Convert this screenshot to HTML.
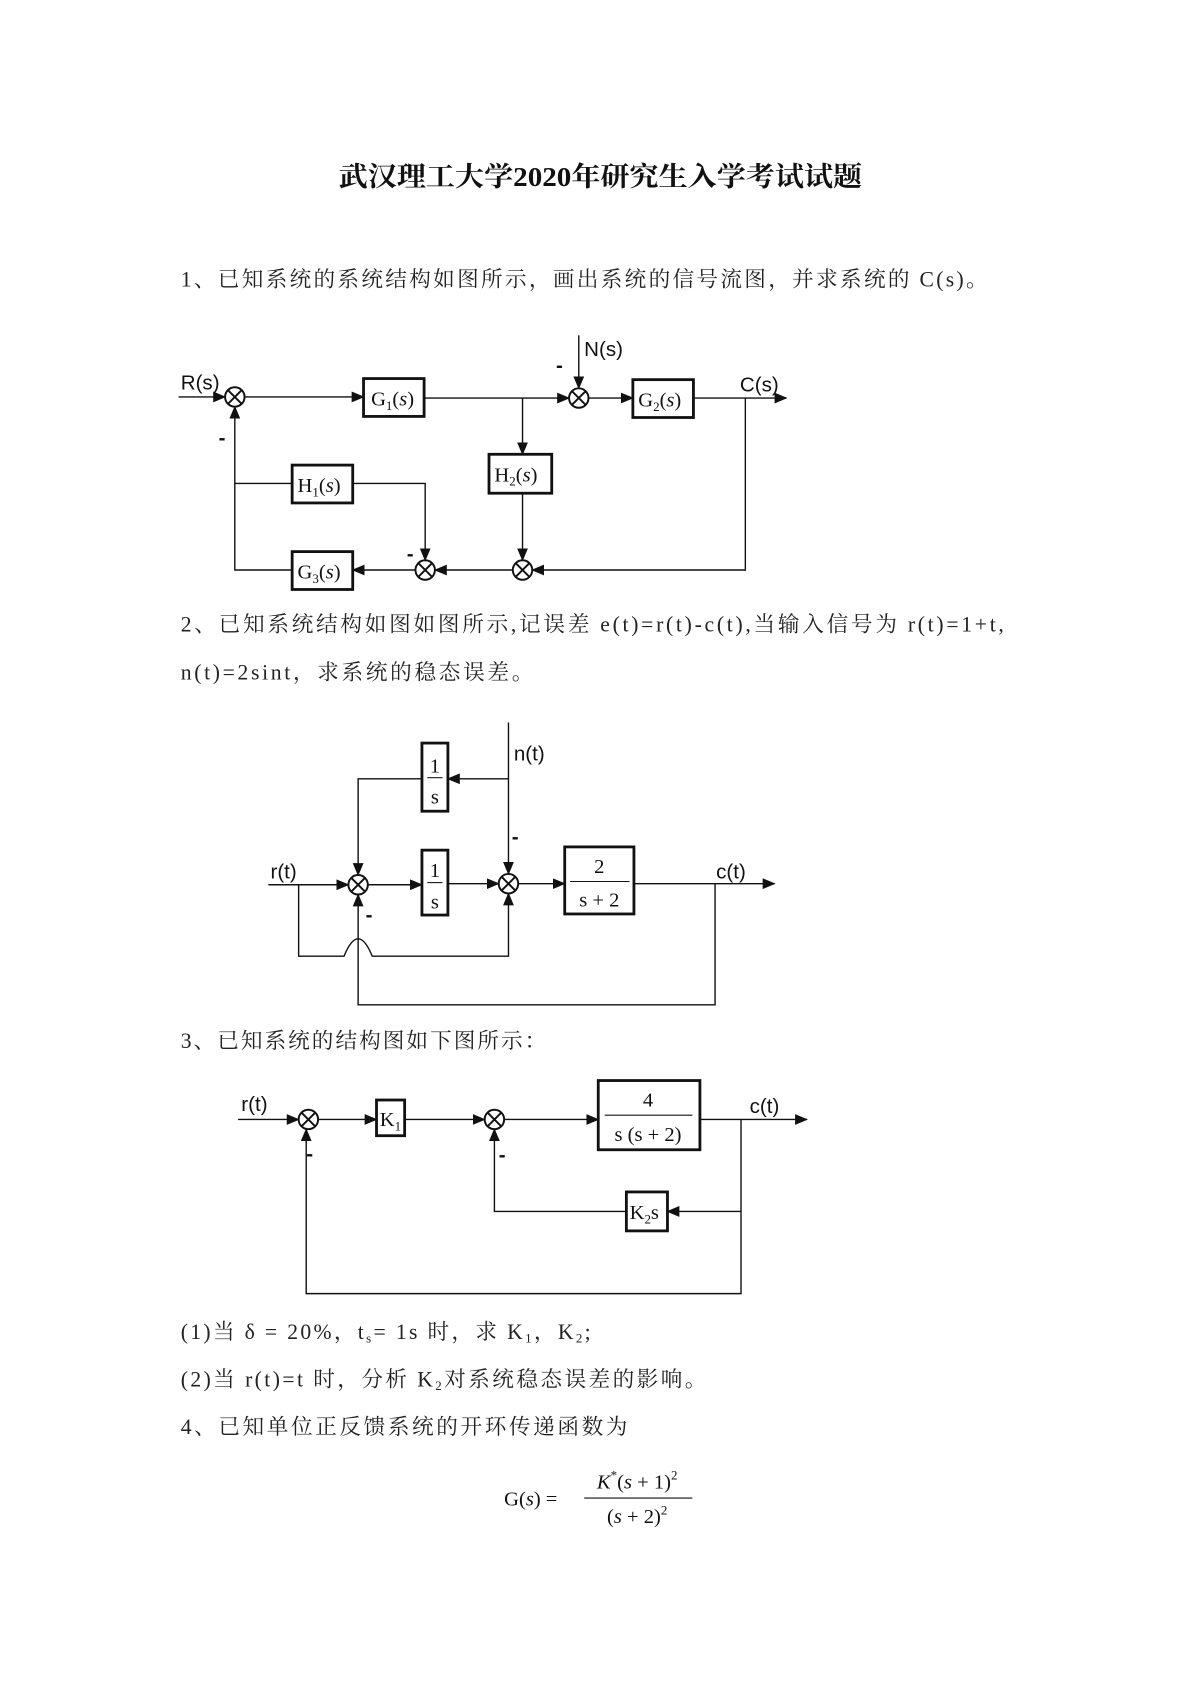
<!DOCTYPE html>
<html><head><meta charset="utf-8"><style>
html,body{margin:0;padding:0;background:#fff}
svg{display:block}
.t{font-family:"Liberation Serif","Noto Serif CJK SC",serif;font-size:20px;fill:#222}
.s{font-family:"Liberation Sans","Noto Sans CJK SC",sans-serif;font-size:19px;fill:#111}
.m{font-family:"Liberation Serif","Noto Serif CJK SC",serif;font-size:19px;fill:#111}
line,polyline,path.w{stroke:#111;stroke-width:1.3;fill:none}
rect{fill:#fff;stroke:#111;stroke-width:2.6}
circle{fill:#fff;stroke:#111;stroke-width:1.8}
</style></head><body>
<svg width="1190" height="1683" viewBox="0 0 1100 1556" xmlns="http://www.w3.org/2000/svg">
<defs>
<marker id="a" markerUnits="userSpaceOnUse" markerWidth="12" markerHeight="10" refX="11" refY="5" orient="auto"><path d="M0,0 L12,5 L0,10 Z" fill="#111"/></marker>
<g id="x"><circle cx="0" cy="0" r="9"/><line x1="-6.3" y1="-6.3" x2="6.3" y2="6.3" style="stroke-width:1.8"/><line x1="-6.3" y1="6.3" x2="6.3" y2="-6.3" style="stroke-width:1.8"/></g>
</defs>

<text x="313" y="172" textLength="484" lengthAdjust="spacingAndGlyphs" style="font-family:'Liberation Serif','Noto Serif CJK SC',serif;font-size:25px;font-weight:bold;fill:#111">武汉理工大学2020年研究生入学考试试题</text>
<text class="t" x="167" y="265" textLength="746" lengthAdjust="spacing">1、已知系统的系统结构如图所示，画出系统的信号流图，并求系统的 C(s)。</text>

<!-- Diagram 1 -->
<text class="s" x="167" y="360">R(s)</text>
<line x1="165" y1="367" x2="208" y2="367" marker-end="url(#a)"/>
<use href="#x" x="217" y="367"/>
<line x1="226" y1="367" x2="336" y2="367" marker-end="url(#a)"/>
<rect x="336" y="350" width="56" height="35"/>
<text class="m" x="343" y="375">G<tspan font-size="12" dy="4">1</tspan><tspan dy="-4">(</tspan><tspan font-style="italic">s</tspan>)</text>
<line x1="392" y1="368" x2="526" y2="368" marker-end="url(#a)"/>
<use href="#x" x="535" y="368"/>
<line x1="535" y1="310" x2="535" y2="359" marker-end="url(#a)"/>
<text class="s" x="540" y="329">N(s)</text>
<text class="s" x="514" y="344" font-weight="bold">-</text>
<line x1="544" y1="368" x2="585" y2="368" marker-end="url(#a)"/>
<rect x="585" y="351" width="56" height="35"/>
<text class="m" x="590" y="376">G<tspan font-size="12" dy="4">2</tspan><tspan dy="-4">(</tspan><tspan font-style="italic">s</tspan>)</text>
<line x1="641" y1="368" x2="727" y2="368" marker-end="url(#a)"/>
<text class="s" x="684" y="362">C(s)</text>
<polyline points="689,368 689,527 492,527" marker-end="url(#a)"/>
<line x1="483" y1="368" x2="483" y2="420" marker-end="url(#a)"/>
<rect x="452" y="420" width="58" height="36"/>
<text class="m" x="457" y="445">H<tspan font-size="12" dy="4">2</tspan><tspan dy="-4">(</tspan><tspan font-style="italic">s</tspan>)</text>
<line x1="483" y1="456" x2="483" y2="518" marker-end="url(#a)"/>
<use href="#x" x="483" y="527"/>
<line x1="474" y1="527" x2="402" y2="527" marker-end="url(#a)"/>
<use href="#x" x="393" y="527"/>
<text class="s" x="376" y="518" font-weight="bold">-</text>
<line x1="217" y1="447" x2="270" y2="447"/>
<rect x="270" y="430" width="56" height="35"/>
<text class="m" x="275" y="455">H<tspan font-size="12" dy="4">1</tspan><tspan dy="-4">(</tspan><tspan font-style="italic">s</tspan>)</text>
<polyline points="326,447 393,447 393,518" marker-end="url(#a)"/>
<line x1="384" y1="527" x2="326" y2="527" marker-end="url(#a)"/>
<rect x="270" y="510" width="56" height="35"/>
<text class="m" x="275" y="535">G<tspan font-size="12" dy="4">3</tspan><tspan dy="-4">(</tspan><tspan font-style="italic">s</tspan>)</text>
<polyline points="270,527 217,527 217,376" marker-end="url(#a)"/>
<text class="s" x="202" y="411" font-weight="bold">-</text>

<text class="t" x="167" y="584" textLength="761" lengthAdjust="spacing">2、已知系统结构如图如图所示,记误差 e(t)=r(t)-c(t),当输入信号为 r(t)=1+t,</text>
<text class="t" x="167" y="628" textLength="326" lengthAdjust="spacing">n(t)=2sint，求系统的稳态误差。</text>

<!-- Diagram 2 -->
<line x1="470" y1="668" x2="470" y2="808" marker-end="url(#a)"/>
<text class="s" x="475" y="703">n(t)</text>
<line x1="470" y1="720" x2="414" y2="720" marker-end="url(#a)"/>
<rect x="390" y="687" width="24" height="63"/>
<text class="m" x="402" y="714" text-anchor="middle">1</text>
<line x1="395" y1="719" x2="409" y2="719" style="stroke-width:1"/>
<text class="m" x="402" y="743" text-anchor="middle">s</text>
<polyline points="390,720 331,720 331,809" marker-end="url(#a)"/>
<text class="s" x="250" y="812">r(t)</text>
<line x1="248" y1="818" x2="322" y2="818" marker-end="url(#a)"/>
<use href="#x" x="331" y="818"/>
<line x1="340" y1="818" x2="390" y2="818" marker-end="url(#a)"/>
<rect x="390" y="786" width="24" height="60"/>
<text class="m" x="402" y="811" text-anchor="middle">1</text>
<line x1="395" y1="816" x2="409" y2="816" style="stroke-width:1"/>
<text class="m" x="402" y="840" text-anchor="middle">s</text>
<line x1="414" y1="817" x2="461" y2="817" marker-end="url(#a)"/>
<use href="#x" x="470" y="817"/>
<text class="s" x="473" y="780" font-weight="bold">-</text>
<line x1="479" y1="817" x2="522" y2="817" marker-end="url(#a)"/>
<rect x="522" y="783" width="64" height="62"/>
<text class="m" x="554" y="807" text-anchor="middle">2</text>
<line x1="527" y1="815" x2="582" y2="815" style="stroke-width:1"/>
<text class="m" x="554" y="838" text-anchor="middle">s + 2</text>
<line x1="586" y1="817" x2="716" y2="817" marker-end="url(#a)"/>
<text class="s" x="662" y="812">c(t)</text>
<polyline points="661,817 661,929 331,929 331,827" marker-end="url(#a)"/>
<text class="s" x="338" y="852" font-weight="bold">-</text>
<path class="w" d="M276,818 L276,884 L318,884 Q331,852 344,884 L470,884 L470,826" marker-end="url(#a)"/>

<text class="t" x="167" y="969" textLength="338" lengthAdjust="spacing">3、已知系统的结构图如下图所示：</text>

<!-- Diagram 3 -->
<text class="s" x="223" y="1027">r(t)</text>
<line x1="220" y1="1035" x2="276" y2="1035" marker-end="url(#a)"/>
<use href="#x" x="285" y="1035"/>
<text class="s" x="283" y="1073" font-weight="bold">-</text>
<line x1="294" y1="1035" x2="348" y2="1035" marker-end="url(#a)"/>
<rect x="348" y="1017" width="26" height="33"/>
<text class="m" x="351" y="1041">K<tspan font-size="12" dy="4">1</tspan></text>
<line x1="374" y1="1035" x2="448" y2="1035" marker-end="url(#a)"/>
<use href="#x" x="457" y="1035"/>
<text class="s" x="461" y="1074" font-weight="bold">-</text>
<line x1="466" y1="1035" x2="553" y2="1035" marker-end="url(#a)"/>
<rect x="553" y="999" width="94" height="64"/>
<text class="m" x="599" y="1023" text-anchor="middle">4</text>
<line x1="559" y1="1031" x2="640" y2="1031" style="stroke-width:1"/>
<text class="m" x="599" y="1055" text-anchor="middle">s (s + 2)</text>
<line x1="647" y1="1035" x2="746" y2="1035" marker-end="url(#a)"/>
<text class="s" x="693" y="1029">c(t)</text>
<polyline points="685,1035 685,1196 283,1196 283,1044" marker-end="url(#a)"/>
<line x1="685" y1="1120" x2="617" y2="1120" marker-end="url(#a)"/>
<rect x="579" y="1102" width="38" height="36"/>
<text class="m" x="582" y="1127">K<tspan font-size="12" dy="4">2</tspan><tspan dy="-4">s</tspan></text>
<polyline points="579,1120 457,1120 457,1044" marker-end="url(#a)"/>

<text class="t" x="167" y="1238" textLength="379" lengthAdjust="spacing">(1)当 δ = 20%，t<tspan font-size="12" dy="3">s</tspan><tspan dy="-3">= 1s 时，求 K</tspan><tspan font-size="12" dy="3">1</tspan><tspan dy="-3">，K</tspan><tspan font-size="12" dy="3">2</tspan><tspan dy="-3">;</tspan></text>
<text class="t" x="167" y="1282" textLength="486" lengthAdjust="spacing">(2)当 r(t)=t 时，分析 K<tspan font-size="12" dy="3">2</tspan><tspan dy="-3">对系统稳态误差的影响。</tspan></text>
<text class="t" x="167" y="1326" textLength="413" lengthAdjust="spacing">4、已知单位正反馈系统的开环传递函数为</text>

<text class="m" x="466" y="1392">G(<tspan font-style="italic">s</tspan>) =</text>
<text class="m" x="589" y="1376" text-anchor="middle"><tspan font-style="italic">K</tspan><tspan font-size="12" dy="-8">*</tspan><tspan dy="8">(</tspan><tspan font-style="italic">s</tspan> + 1)<tspan font-size="12" dy="-8">2</tspan></text>
<line x1="540" y1="1385" x2="640" y2="1385" style="stroke-width:1"/>
<text class="m" x="589" y="1408" text-anchor="middle">(<tspan font-style="italic">s</tspan> + 2)<tspan font-size="12" dy="-8">2</tspan></text>
</svg>
</body></html>
